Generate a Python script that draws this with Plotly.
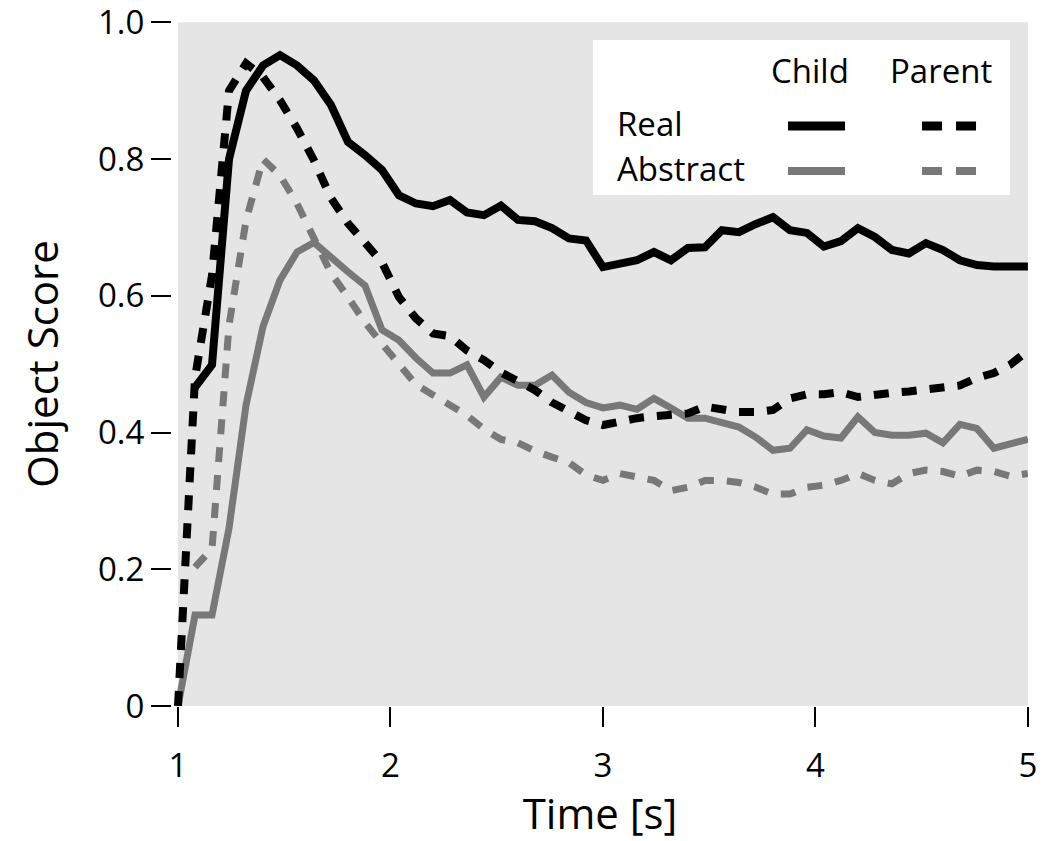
import plotly.graph_objects as go

time_s = [1.00, 1.08, 1.16, 1.24, 1.32, 1.40, 1.48, 1.56, 1.64, 1.72,
          1.80, 1.88, 1.96, 2.04, 2.12, 2.20, 2.28, 2.36, 2.44, 2.52,
          2.60, 2.68, 2.76, 2.84, 2.92, 3.00, 3.08, 3.16, 3.24, 3.32,
          3.40, 3.48, 3.56, 3.64, 3.72, 3.80, 3.88, 3.96, 4.04, 4.12,
          4.20, 4.28, 4.36, 4.44, 4.52, 4.60, 4.68, 4.76, 4.84, 4.92, 5.00]

real_child = [None, 0.466, 0.499, 0.80, 0.90, 0.937, 0.952, 0.937, 0.915, 0.879,
              0.825, 0.806, 0.784, 0.747, 0.735, 0.731, 0.740, 0.722, 0.718, 0.732,
              0.711, 0.709, 0.699, 0.684, 0.681, 0.642, 0.646, 0.652, 0.664, 0.652,
              0.670, 0.671, 0.696, 0.693, 0.705, 0.715, 0.696, 0.692, 0.672, 0.680,
              0.699, 0.686, 0.667, 0.662, 0.677, 0.667, 0.652, 0.645, 0.643, 0.643, 0.643]

real_parent = [0.0, 0.48, 0.63, 0.90, 0.94, 0.92, 0.886, 0.845, 0.798, 0.743,
               0.706, 0.677, 0.649, 0.598, 0.567, 0.545, 0.541, 0.52, 0.506, 0.488,
               0.474, 0.462, 0.444, 0.43, 0.418, 0.411, 0.417, 0.421, 0.424, 0.427,
               0.428, 0.438, 0.435, 0.43, 0.43, 0.433, 0.45, 0.456, 0.456, 0.459,
               0.452, 0.456, 0.458, 0.46, 0.463, 0.465, 0.469, 0.48, 0.487, 0.50, 0.52]

abstract_child = [0.0, 0.133, 0.133, 0.26, 0.44, 0.555, 0.623, 0.664, 0.678, 0.655,
                  0.635, 0.615, 0.55, 0.535, 0.509, 0.487, 0.487, 0.499, 0.452, 0.481,
                  0.469, 0.469, 0.484, 0.459, 0.444, 0.436, 0.44, 0.434, 0.45, 0.436,
                  0.421, 0.421, 0.415, 0.408, 0.393, 0.374, 0.377, 0.404, 0.395, 0.392,
                  0.423, 0.40, 0.396, 0.396, 0.399, 0.385, 0.412, 0.406, 0.377, 0.384, 0.39]

abstract_parent = [None, 0.203, 0.23, 0.557, 0.71, 0.80, 0.776, 0.735, 0.684, 0.633,
                   0.598, 0.561, 0.53, 0.50, 0.47, 0.455, 0.44, 0.425, 0.405, 0.39,
                   0.385, 0.373, 0.364, 0.356, 0.338, 0.33, 0.34, 0.335, 0.33, 0.315,
                   0.32, 0.33, 0.33, 0.327, 0.32, 0.31, 0.31, 0.32, 0.323, 0.33,
                   0.34, 0.33, 0.325, 0.34, 0.345, 0.343, 0.336, 0.345, 0.343, 0.336, 0.34]

x_ticks = [1, 2, 3, 4, 5]
y_ticks = [0, 0.2, 0.4, 0.6, 0.8, 1.0]
y_ticktext = ["0", "0.2", "0.4", "0.6", "0.8", "1.0"]

BLACK = "#000000"
GRAY = "#787878"
BG = "#e5e5e5"
FONT = "Open Sans"
DASH = "15px,13px"

fig = go.Figure()
fig.add_trace(go.Scatter(x=time_s, y=abstract_child, mode="lines",
                         line=dict(color=GRAY, width=7), name="Abstract Child"))
fig.add_trace(go.Scatter(x=time_s, y=abstract_parent, mode="lines",
                         line=dict(color=GRAY, width=7, dash=DASH), name="Abstract Parent"))
fig.add_trace(go.Scatter(x=time_s, y=real_child, mode="lines",
                         line=dict(color=BLACK, width=8), name="Real Child"))
fig.add_trace(go.Scatter(x=time_s, y=real_parent, mode="lines",
                         line=dict(color=BLACK, width=8, dash=DASH), name="Real Parent"))

# gray plotting region
fig.add_shape(type="rect", xref="x", yref="y", x0=1, x1=5, y0=0, y1=1,
              fillcolor=BG, line=dict(width=0), layer="below")

# custom 2x2 legend
fig.add_shape(type="rect", xref="paper", yref="paper", x0=0.4918, x1=0.979,
              y0=0.7471, y1=0.9737, fillcolor="white", line=dict(width=0), layer="above")
fig.add_shape(type="line", xref="paper", yref="paper", x0=0.7196, x1=0.7862,
              y0=0.848, y1=0.848, line=dict(color=BLACK, width=9), layer="above")
fig.add_shape(type="line", xref="paper", yref="paper", x0=0.7196, x1=0.7862,
              y0=0.7822, y1=0.7822, line=dict(color=GRAY, width=8), layer="above")
fig.add_shape(type="line", xref="paper", yref="paper", x0=0.8762, x1=0.9404,
              y0=0.848, y1=0.848, line=dict(color=BLACK, width=9, dash="20px,14px"),
              layer="above")
fig.add_shape(type="line", xref="paper", yref="paper", x0=0.8762, x1=0.9404,
              y0=0.7822, y1=0.7822, line=dict(color=GRAY, width=8, dash="20px,14px"),
              layer="above")

legend_font = dict(family=FONT, size=33, color=BLACK)
fig.add_annotation(text="Child", xref="paper", yref="paper", x=0.7453, y=0.9298,
                   xanchor="center", yanchor="middle", showarrow=False, font=legend_font)
fig.add_annotation(text="Parent", xref="paper", yref="paper", x=0.8984, y=0.9298,
                   xanchor="center", yanchor="middle", showarrow=False, font=legend_font)
fig.add_annotation(text="Real", xref="paper", yref="paper", x=0.5175, y=0.8516,
                   xanchor="left", yanchor="middle", showarrow=False, font=legend_font)
fig.add_annotation(text="Abstract", xref="paper", yref="paper", x=0.5175, y=0.7858,
                   xanchor="left", yanchor="middle", showarrow=False, font=legend_font)

fig.update_layout(
    width=1049, height=841,
    margin=dict(l=172, r=21, t=22, b=135),
    paper_bgcolor="white", plot_bgcolor="white",
    showlegend=False,
    font=dict(family=FONT, color=BLACK),
    xaxis=dict(range=[0.9717, 5.0005], tickvals=x_ticks, ticks="outside", ticklen=20,
               tickwidth=2, tickcolor=BLACK, showgrid=False, zeroline=False,
               showline=False, tickfont=dict(size=33, family=FONT),
               ticklabelstandoff=10, automargin=False, ticklabeloverflow="allow",
               title=dict(text="Time [s]", font=dict(size=42, family=FONT), standoff=26)),
    yaxis=dict(range=[0, 1.0005], tickvals=y_ticks, ticktext=y_ticktext, ticks="outside",
               ticklen=20, tickwidth=2, tickcolor=BLACK, showgrid=False, zeroline=False,
               showline=False, tickfont=dict(size=33, family=FONT), automargin=False,
               ticklabeloverflow="allow",
               title=dict(text="Object Score", font=dict(size=42, family=FONT), standoff=26)),
)

fig.write_html("out.html", config={"displayModeBar": False},
               post_script="document.body.style.margin='0';document.body.style.overflow='hidden';")
